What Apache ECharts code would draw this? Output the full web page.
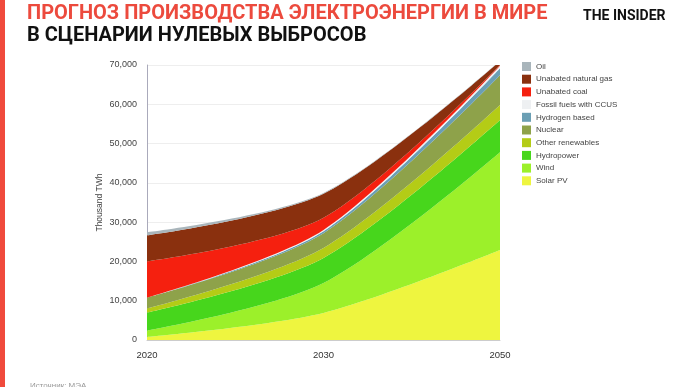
<!DOCTYPE html>
<html>
<head>
<meta charset="utf-8">
<script src="https://cdn.jsdelivr.net/npm/echarts@6/dist/echarts.min.js"></script>
<style>
html,body{margin:0;padding:0;background:#fff;}
#c{width:688px;height:387px;}
</style>
</head>
<body>
<div id="c"></div>
<script>
// Thousand TWh
const years = ['2020', '2030', '2050'];
const solarPV = [0.8, 6.9, 22.9];
const wind = [1.6, 7.6, 24.9];
const hydropower = [4.6, 6.4, 8.2];
const otherRenewables = [1.0, 2.5, 3.8];
const nuclear = [2.8, 3.8, 7.6];
const hydrogenBased = [0.0, 0.5, 1.8];
const ccus = [0.0, 0.3, 0.6];
const coal = [9.2, 3.1, 0.2];
const gas = [6.6, 6.1, 1.0];
const oil = [0.8, 0.2, 0.1];
const yTicks = [0, 10000, 20000, 30000, 40000, 50000, 60000, 70000];

const seriesDefs = [
  ['Solar PV', solarPV, '#eef53f'],
  ['Wind', wind, '#9cf02a'],
  ['Hydropower', hydropower, '#47d61c'],
  ['Other renewables', otherRenewables, '#b4cc16'],
  ['Nuclear', nuclear, '#8ea24a'],
  ['Hydrogen based', hydrogenBased, '#6b9fb4'],
  ['Fossil fuels with CCUS', ccus, '#eef0f2'],
  ['Unabated coal', coal, '#f5200f'],
  ['Unabated natural gas', gas, '#8a300e'],
  ['Oil', oil, '#a9b5bb']
];

const chart = echarts.init(document.getElementById('c'), null, {renderer: 'canvas'});
chart.setOption({
  animation: false,
  backgroundColor: '#fff',
  title: [
    {text: 'ПРОГНОЗ ПРОИЗВОДСТВА ЭЛЕКТРОЭНЕРГИИ В МИРЕ', left: 22, top: -1,
     textStyle: {fontFamily: 'Roboto', fontWeight: 'bold', fontSize: 20, color: '#ec4a3d'}},
    {text: 'В СЦЕНАРИИ НУЛЕВЫХ ВЫБРОСОВ', left: 22, top: 21,
     textStyle: {fontFamily: 'Roboto', fontWeight: 'bold', fontSize: 20, color: '#111'}},
    {text: 'THE INSIDER', left: 578, top: 4,
     textStyle: {fontFamily: 'Roboto', fontWeight: 'bold', fontSize: 14, color: '#111'}},
    {text: 'Источник: МЭА', left: 25, top: 377,
     textStyle: {fontFamily: 'Liberation Sans', fontWeight: 'normal', fontSize: 8, color: '#999'}}
  ],
  graphic: [
    {type: 'rect', left: 0, top: 0, shape: {width: 5, height: 387}, style: {fill: '#f04a3c'}}
  ],
  legend: {
    orient: 'vertical', left: 517, top: 57,
    itemWidth: 9, itemHeight: 9, itemGap: 3.7,
    icon: 'rect',
    data: seriesDefs.map(d => d[0]).reverse(),
    textStyle: {fontFamily: 'Liberation Sans', fontSize: 8, color: '#444'}
  },
  grid: {left: 147, right: 188, top: 65, bottom: 47},
  xAxis: {
    type: 'category', data: years, boundaryGap: false,
    axisLine: {lineStyle: {color: '#ccc'}},
    axisTick: {show: false},
    axisLabel: {fontFamily: 'Liberation Sans', fontSize: 9.5, color: '#333', margin: 10}
  },
  yAxis: {
    type: 'value', min: yTicks[0], max: yTicks[yTicks.length - 1], interval: 10000,
    name: 'Thousand TWh', nameLocation: 'middle', nameGap: 43, nameMoveOverlap: false,
    nameTextStyle: {fontFamily: 'Liberation Sans', fontSize: 8.5, color: '#444'},
    axisLine: {show: true, lineStyle: {color: '#aab'}},
    axisTick: {show: false},
    splitLine: {lineStyle: {color: '#eee'}},
    axisLabel: {fontFamily: 'Liberation Sans', fontSize: 9, color: '#444', margin: 10,
      formatter: v => v === 0 ? '0' : v.toLocaleString('en-US')}
  },
  series: seriesDefs.map(([name, vals, color]) => ({
    name, type: 'line', stack: 'total', smooth: 0.3, symbol: 'none',
    data: vals.map(v => v * 1000),
    lineStyle: {width: 0},
    areaStyle: {color: color, opacity: 1},
    itemStyle: {color: color}
  }))
});
</script>
</body>
</html>
